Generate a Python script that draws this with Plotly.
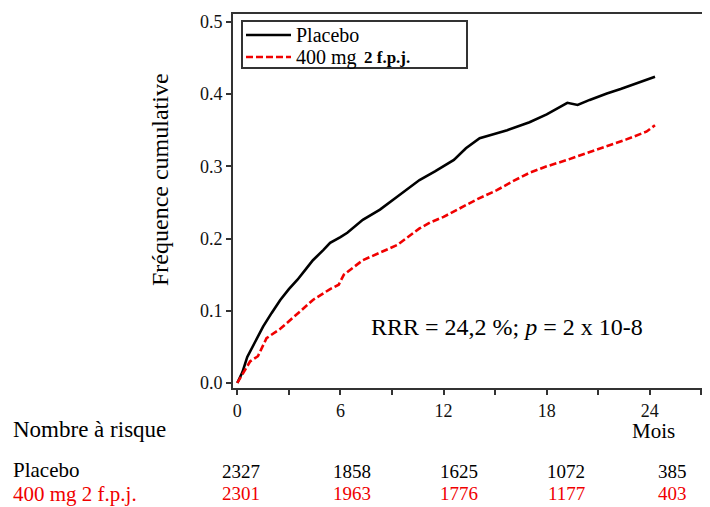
import plotly.graph_objects as go

# Data
placebo_months = [0, 0.3, 0.58, 1.0, 1.5, 2.0, 2.5, 3.0, 3.5, 4.0, 4.4, 5.0, 5.4, 6.0, 6.4, 7.3, 8.3,
                  9.3, 10.6, 11.5, 12.6, 13.3, 14.1, 15.0, 15.7, 17.0, 18.0, 19.2, 19.8, 20.5,
                  21.5, 22.3, 23.3, 24.3]
placebo_freq = [0, 0.015, 0.036, 0.055, 0.078, 0.097, 0.115, 0.13, 0.143, 0.158, 0.170, 0.184,
                0.194, 0.202, 0.208, 0.226, 0.24, 0.258, 0.281, 0.293, 0.309, 0.325, 0.339,
                0.345, 0.350, 0.361, 0.372, 0.388, 0.385, 0.392, 0.401, 0.407, 0.415, 0.424]

drug_months = [0, 0.3, 0.75, 1.2, 1.7, 2.5, 3.0, 3.7, 4.4, 5.4, 5.9, 6.2, 7.3, 8.3, 9.3, 10.6,
               11.2, 12.0, 13.1, 14.0, 15.1, 16.0, 17.0, 18.0, 19.2, 20.3, 21.5, 22.6, 23.8, 24.3]
drug_freq = [0, 0.012, 0.03, 0.037, 0.062, 0.075, 0.085, 0.1, 0.115, 0.13, 0.136, 0.15, 0.170,
             0.18, 0.191, 0.214, 0.222, 0.23, 0.244, 0.255, 0.267, 0.279, 0.291, 0.3, 0.309,
             0.318, 0.327, 0.337, 0.348, 0.357]

x_ticks = [0, 3, 6, 9, 12, 15, 18, 21, 24, 27]
x_tick_labels = ["0", "", "6", "", "12", "", "18", "", "24", ""]
y_ticks = [0.0, 0.1, 0.2, 0.3, 0.4, 0.5]
y_tick_labels = ["0.0", "0.1", "0.2", "0.3", "0.4", "0.5"]

series_names = ["Placebo", "400 mg"]
series_suffix = ["", "2 f.p.j."]
risk_labels = ["Placebo", "400 mg 2 f.p.j."]
risk_placebo = [2327, 1858, 1625, 1072, 385]
risk_drug = [2301, 1963, 1776, 1177, 403]

# page is offset by the browser's 8px body margin
OFF = 8
W, H = 702, 499
PL, PR, PT, PB = 233, 710, 14, 388          # plot area in page pixels
ML, MT = PL - OFF, PT - OFF
MR = W - (PR - OFF)
MB = H - (PB - OFF)
FONT = "Liberation Serif"
RED = "#f00000"
pw = W - ML - MR
ph = H - MT - MB


def px_x(p):
    return (p - OFF - ML) / pw


def px_y(p):
    return (H - MB - (p - OFF)) / ph


fig = go.Figure()
fig.add_trace(go.Scatter(x=placebo_months, y=placebo_freq, mode="lines", name=series_names[0],
                         line=dict(color="black", width=2.6), showlegend=False))
fig.add_trace(go.Scatter(x=drug_months, y=drug_freq, mode="lines", name=series_names[1],
                         line=dict(color=RED, width=2.6, dash="7px,3px"), showlegend=False))

ann = []
shapes = []


def text(t, x, y, size, color="black", anchor="center", angle=0):
    ann.append(dict(text=t, x=px_x(x), y=px_y(y), xref="paper", yref="paper",
                    xanchor=anchor, yanchor="middle", showarrow=False, textangle=angle,
                    font=dict(size=size, color=color, family=FONT)))


# y axis title
text("Fréquence cumulative", 160, 180, 24, angle=-90)
# statistics
text("RRR = 24,2 %; <i>p</i> = 2 x 10-8", 507, 327, 24)
# x axis unit and risk table
text("Nombre à risque", 11, 429, 23, anchor="left")
text("Mois", 653, 431, 21)
text(risk_labels[0], 11, 470, 21, anchor="left")
text(risk_labels[1], 11, 494, 21, color=RED, anchor="left")
col_px = [241, 352, 459, 566, 672]
for cx, a, b in zip(col_px, risk_placebo, risk_drug):
    text(str(a), cx, 471, 19)
    text(str(b), cx, 493, 19, color=RED)

# manual legend
shapes.append(dict(type="rect", xref="paper", yref="paper", x0=px_x(242), x1=px_x(467),
                   y0=px_y(21), y1=px_y(68), line=dict(color="#333", width=2),
                   fillcolor="white", layer="above"))
shapes.append(dict(type="line", xref="paper", yref="paper", x0=px_x(246), x1=px_x(291),
                   y0=px_y(35), y1=px_y(35), line=dict(color="black", width=2.6), layer="above"))
shapes.append(dict(type="line", xref="paper", yref="paper", x0=px_x(246), x1=px_x(291),
                   y0=px_y(57), y1=px_y(57), line=dict(color=RED, width=2.6, dash="7px,3px"),
                   layer="above"))
text(series_names[0], 294, 35, 20, anchor="left")
text(series_names[1], 294, 57, 20, anchor="left")
text("<b>" + series_suffix[1] + "</b>", 362, 57, 17, anchor="left")

fig.update_layout(
    width=W, height=H,
    margin=dict(l=ML, r=MR, t=MT, b=MB),
    paper_bgcolor="white", plot_bgcolor="white",
    font=dict(family=FONT, color="black"),
    showlegend=False,
    annotations=ann,
    shapes=shapes,
    xaxis=dict(range=[-0.25, 27.5], tickvals=x_ticks, ticktext=x_tick_labels,
               showgrid=False, zeroline=False, showline=True, linecolor="#333", linewidth=2,
               mirror=True, ticks="outside", ticklen=5, tickwidth=2, tickcolor="#333",
               tickfont=dict(size=18, color="#111")),
    yaxis=dict(range=[-0.007, 0.511], tickvals=y_ticks, ticktext=y_tick_labels,
               showgrid=False, zeroline=False, showline=True, linecolor="#333", linewidth=2,
               ticks="outside", ticklen=5, tickwidth=2, tickcolor="#333",
               tickfont=dict(size=18, color="#111")),
)

fig.write_html("out.html")
